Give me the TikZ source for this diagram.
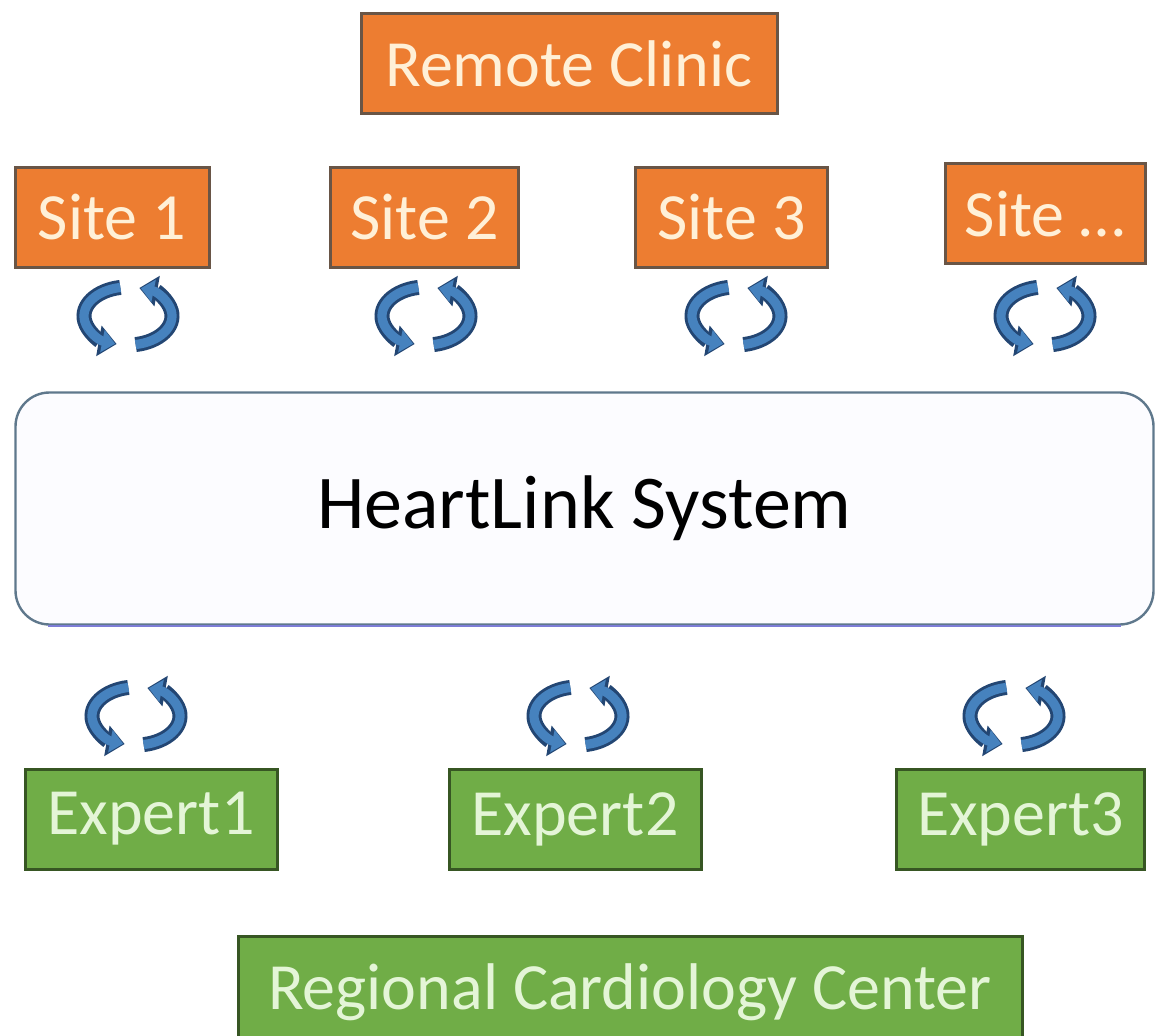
\documentclass[tikz,border=0pt]{standalone}
\usepackage{fontspec}
\setmainfont{Carlito}
\usetikzlibrary{arrows.meta}
\definecolor{clinicorange}{RGB}{237,125,49}
\definecolor{clinicedge}{RGB}{105,85,70}
\definecolor{clinictext}{RGB}{255,240,215}
\definecolor{expertgreen}{RGB}{112,173,71}
\definecolor{expertedge}{RGB}{55,86,35}
\definecolor{experttext}{RGB}{228,245,215}
\definecolor{hubedge}{RGB}{95,120,140}
\definecolor{hubline}{RGB}{125,125,215}
\definecolor{syncblue}{RGB}{70,130,190}
\definecolor{syncedge}{RGB}{35,70,115}

\tikzset{
    clinicbox/.style={draw=clinicedge, fill=clinicorange, text=clinictext, line width=1.5pt,
        minimum height=50pt, inner sep=0pt, font=\fontsize{33}{40}\selectfont},
    expertbox/.style={draw=expertedge, fill=expertgreen, text=experttext, line width=1.5pt,
        minimum height=50pt, inner sep=0pt, font=\fontsize{33}{40}\selectfont},
    hubbox/.style={draw=hubedge, fill=blue!1, line width=1.2pt, rounded corners=17pt,
        font=\fontsize{38}{46}\selectfont},
    % two curved arrows chasing each other round an ellipse
    pics/syncarrows/.style={code={
        \foreach \from/\to in {100/255, 280/435} {
            \draw[syncedge, line width=7.5pt, -{Triangle[length=9pt, width=15pt]}]
                (\from:44 and 29) arc[start angle=\from, end angle=\to, x radius=44, y radius=29];
            \draw[syncblue, line width=4.6pt, -{Triangle[length=6.5pt, width=11pt]}]
                (\from:44 and 29) arc[start angle=\from, end angle=\to-2, x radius=44, y radius=29];
        }
    }}
}

\begin{document}
\begin{tikzpicture}[x=0.5pt, y=0.5pt]
    \useasboundingbox (0,0) rectangle (1156,1035);

    % Remote clinic and its sites
    \node[clinicbox, minimum width=208pt] (clinic) at (569,971.5) {Remote Clinic};
    \node[clinicbox, minimum width=97pt] (site1) at (112,817.5) {Site 1};
    \node[clinicbox, minimum width=94pt] (site2) at (424.5,817.5) {Site 2};
    \node[clinicbox, minimum width=96pt] (site3) at (731.5,817.5) {Site 3};
    \node[clinicbox, minimum width=100pt] (siten) at (1045,821) {Site \dots};

    % Exchange with the system (top row)
    \foreach \x in {128, 426, 736, 1045} {
        \pic at (\x,719) {syncarrows};
    }

    % The HeartLink System
    \node[hubbox, minimum width=569pt, minimum height=116pt] (hub) at (584.5,526.5) {HeartLink System};
    \draw[hubline, line width=1.2pt] ([xshift=17pt]hub.south west) -- ([xshift=-17pt]hub.south east);

    % Exchange with the experts (bottom row)
    \foreach \x in {136, 578, 1014} {
        \pic at (\x,319) {syncarrows};
    }

    % Experts and the regional center
    \node[expertbox, minimum width=126pt] (expert1) at (151,216) {Expert1};
    \node[expertbox, minimum width=126pt] (expert2) at (575,216) {Expert2};
    \node[expertbox, minimum width=124pt] (expert3) at (1020.5,216) {Expert3};
    \node[expertbox, minimum width=392pt, minimum height=56pt] (center) at (630,43) {Regional Cardiology Center};
\end{tikzpicture}
\end{document}
